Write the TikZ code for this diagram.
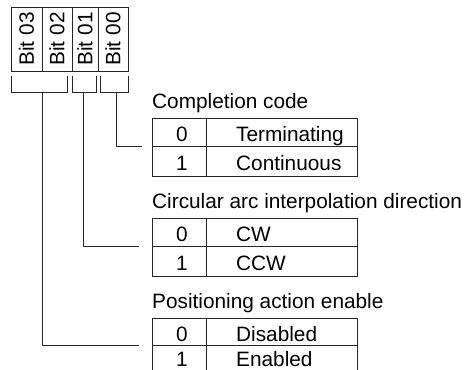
\documentclass[tikz,border=0pt]{standalone}
\usepackage{fontspec}
\setmainfont{Liberation Sans}
\begin{document}
\begin{tikzpicture}[x=1pt,y=-1pt,
  ln/.style={line width=0.8pt, draw=black!85},
  lbl/.style={font=\fontsize{20.8}{24}\selectfont, inner sep=0pt},
  txt/.style={lbl, anchor=base west},
  dig/.style={lbl, anchor=base}]
\useasboundingbox (0,0) rectangle (467,370);
\clip (0,0) rectangle (467,370);
% bit box
\draw[ln] (11,7) rectangle (128,71);
\draw[ln] (42,7) -- (42,71) (72,7) -- (72,71) (98,7) -- (98,71);
\node[lbl, rotate=90] (b3) at (26.5,39) {Bit 03};
\node[lbl, rotate=90] (b2) at (57,39) {Bit 02};
\node[lbl, rotate=90] (b1) at (85,39) {Bit 01};
\node[lbl, rotate=90] (b0) at (113,39) {Bit 00};
% brackets
\draw[ln] (11,76) -- (11,92) -- (67,92) -- (67,76);
\draw[ln] (72,76) -- (72,92) -- (96,92) -- (96,76);
\draw[ln] (100,76) -- (100,92) -- (128,92) -- (128,76);
\coordinate (s1) at (42,92);
\coordinate (s2) at (83,92);
\coordinate (s3) at (116,92);
% table 1
\node[txt] (h1) at (152,108) {Completion code};
\draw[ln] (152,118) rectangle (357,176);
\draw[ln] (152,146.5) -- (357,146.5) (206,118) -- (206,176);
\node[dig] (t1a) at (182,141) {0};
\node[txt] (t1b) at (236,141) {Terminating};
\node[dig] (t1c) at (182,170) {1};
\node[txt] (t1d) at (236,170) {Continuous};
\coordinate (e3) at (142,146.5);
% table 2
\node[txt] (h2) at (152,208) {Circular arc interpolation direction};
\draw[ln] (152,218) rectangle (357,276);
\draw[ln] (152,246.5) -- (357,246.5) (206,218) -- (206,276);
\node[dig] (t2a) at (182,241) {0};
\node[txt] (t2b) at (236,241) {CW};
\node[dig] (t2c) at (182,270) {1};
\node[txt] (t2d) at (236,270) {CCW};
\coordinate (e2) at (139,246.5);
% table 3
\node[txt] (h3) at (152,308) {Positioning action enable};
\draw[ln] (152,318) rectangle (357,400);
\draw[ln] (152,345.5) -- (357,345.5) (206,318) -- (206,400);
\node[dig] (t3a) at (182,341) {0};
\node[txt] (t3b) at (236,341) {Disabled};
\node[dig] (t3c) at (182,366) {1};
\node[txt] (t3d) at (236,366) {Enabled};
\coordinate (e1) at (139,345.5);
% connectors
\draw[ln] (s3) |- (e3);
\draw[ln] (s2) |- (e2);
\draw[ln] (s1) |- (e1);
\end{tikzpicture}
\end{document}
